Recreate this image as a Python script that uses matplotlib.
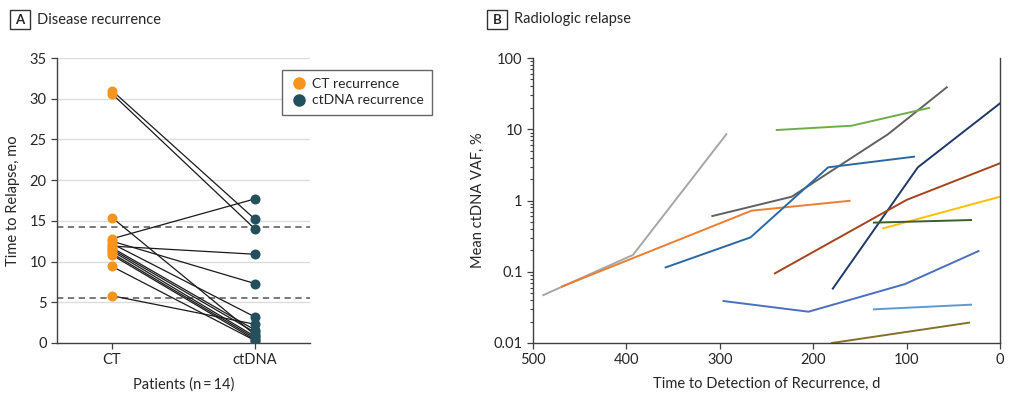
import numpy as np
import matplotlib
matplotlib.use('Agg')
import matplotlib.pyplot as plt
from matplotlib.lines import Line2D
from matplotlib.patches import Rectangle

plt.rcParams['font.family'] = ['Lato', 'DejaVu Sans']

# Panel A: paired time to relapse (months), CT vs ctDNA
ct_months = [31.0, 30.6, 15.4, 12.8, 12.5, 12.2, 11.9, 11.7, 11.5, 11.3, 11.0, 10.8, 9.4, 5.8]
ctdna_months = [15.2, 14.0, 1.0, 17.7, 7.3, 3.2, 10.9, 1.6, 1.3, 0.8, 0.6, 0.4, 0.3, 2.3]
dashed_levels = [14.2, 5.5]
group_labels = ['CT', 'ctDNA']

# Panel B: mean ctDNA VAF (%) vs days before recurrence, one list pair per patient
vaf_days = [
    [489, 393, 293],
    [469, 266, 161],
    [308, 223, 120, 57],
    [239, 159, 76],
    [358, 267, 184, 92],
    [179, 88, 0],
    [241, 100, 0],
    [125, 0],
    [135, 31],
    [296, 205, 102, 23],
    [135, 31],
    [180, 33],
]
vaf_values = [
    [0.047, 0.172, 8.5],
    [0.062, 0.72, 0.99],
    [0.605, 1.13, 8.5, 38.8],
    [9.76, 11.2, 19.9],
    [0.115, 0.304, 2.92, 4.12],
    [0.058, 2.92, 23.1],
    [0.095, 1.02, 3.33],
    [0.407, 1.13],
    [0.489, 0.532],
    [0.0388, 0.0275, 0.067, 0.195],
    [0.0297, 0.0345],
    [0.0100, 0.0193],
]
vaf_colors = ['#a6a6a6', '#ed7d31', '#606060', '#70ad47', '#2a69a3', '#1f3864',
              '#a5441c', '#ffc000', '#3a5f2a', '#4a6fc0', '#5b9bd5', '#85712a']

orange = '#f7941d'
teal = '#23505c'
txt = '#262626'
spine_c = '#404040'

fig = plt.figure(figsize=(10.36, 3.98), dpi=100)
axA = fig.add_axes([57 / 1036, 55 / 398, 253 / 1036, 285 / 398])
axB = fig.add_axes([533 / 1036, 55 / 398, 467 / 1036, 285 / 398])

# ---- Panel A ----
for y in range(5, 36, 5):
    axA.axhline(y, color='#dcdcdc', lw=1.0, zorder=0)
for y in dashed_levels:
    axA.axhline(y, color='#6e6e6e', lw=1.3, ls=(0, (3.5, 2.5)), zorder=1)
for a, b in zip(ct_months, ctdna_months):
    axA.plot([0, 1], [a, b], color='#1a1a1a', lw=0.9, zorder=2)
axA.scatter(np.zeros(len(ct_months)), ct_months, s=52, color=orange, zorder=3, linewidths=0)
axA.scatter(np.ones(len(ctdna_months)), ctdna_months, s=52, color=teal, zorder=3, linewidths=0)
axA.set_xlim(-0.385, 1.385)
axA.set_ylim(0, 35)
axA.set_yticks(range(0, 36, 5))
axA.set_xticks([0, 1])
axA.set_xticklabels(group_labels)
for s in ['top', 'right']:
    axA.spines[s].set_visible(False)
for s in ['left', 'bottom']:
    axA.spines[s].set_color(spine_c)
    axA.spines[s].set_linewidth(1.0)
axA.tick_params(colors=spine_c, labelcolor=txt, labelsize=10.5, length=4, width=0.9)
axA.set_ylabel('Time to Relapse, mo', fontsize=10.5, color=txt, labelpad=7)
axA.set_xlabel('Patients (n\u2009=\u200914)', fontsize=10.5, color=txt, labelpad=7)

handles = [Line2D([], [], marker='o', ls='none', color=orange, markersize=8, label='CT recurrence'),
           Line2D([], [], marker='o', ls='none', color=teal, markersize=8, label='ctDNA recurrence')]
leg = fig.legend(handles=handles, loc='upper left', bbox_to_anchor=(282 / 1036, 1 - 70 / 398),
                 fontsize=10, frameon=True, fancybox=False, edgecolor='#404040',
                 handletextpad=0.35, borderpad=0.6, labelspacing=0.3, handlelength=1.2,
                 borderaxespad=0)
leg.get_frame().set_linewidth(1.0)
for t in leg.get_texts():
    t.set_color(txt)

# ---- Panel B ----
for d, v, c in zip(vaf_days, vaf_values, vaf_colors):
    axB.plot(d, v, color=c, lw=1.4, zorder=2)
axB.set_yscale('log')
axB.set_ylim(0.01, 100)
axB.set_xlim(500, 0)
axB.set_yticks([0.01, 0.1, 1, 10, 100])
axB.set_yticklabels(['0.01', '0.1', '1', '10', '100'])
axB.set_xticks([500, 400, 300, 200, 100, 0])
axB.spines['top'].set_visible(False)
for s in ['left', 'bottom', 'right']:
    axB.spines[s].set_color(spine_c)
    axB.spines[s].set_linewidth(1.0)
axB.tick_params(which='major', colors=spine_c, labelcolor=txt, labelsize=10.5, length=4, width=0.9)
axB.tick_params(which='minor', colors=spine_c, length=2.5, width=0.8)
axB.set_ylabel('Mean ctDNA VAF, %', fontsize=10.5, color=txt, labelpad=6)
axB.set_xlabel('Time to Detection of Recurrence, d', fontsize=10.5, color=txt, labelpad=7)

# ---- panel titles with boxed letters ----
for letter, title, x0 in [('A', 'Disease recurrence', 10), ('B', 'Radiologic relapse', 487)]:
    fig.patches.append(Rectangle((x0 / 1036, 1 - 29 / 398), 20 / 1036, 19 / 398,
                                 transform=fig.transFigure, fill=False,
                                 edgecolor='#333333', lw=1.0))
    fig.text((x0 + 10) / 1036, 1 - 19.5 / 398, letter, ha='center', va='center',
             fontsize=9.5, fontweight='bold', color=txt)
    fig.text((x0 + 27) / 1036, 1 - 19.5 / 398, title, ha='left', va='center',
             fontsize=10.5, color=txt)

fig.savefig('out.png', dpi=100)
